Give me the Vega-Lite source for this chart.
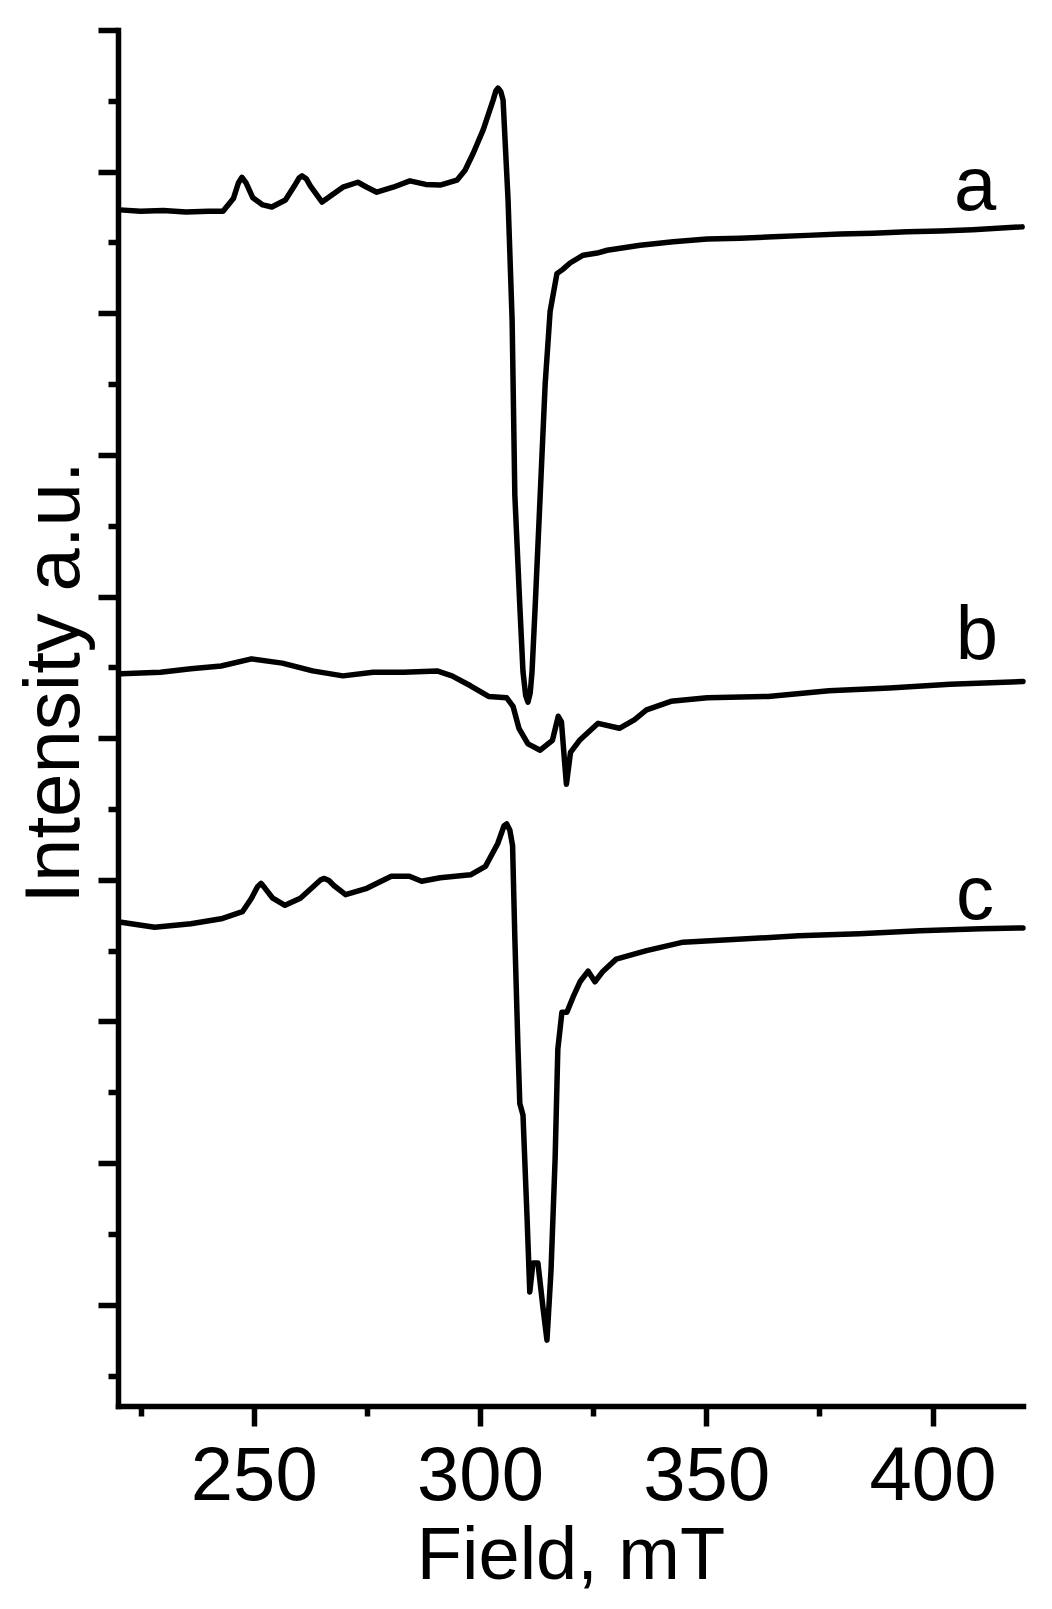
{
  "$schema": "https://vega.github.io/schema/vega-lite/v6.json",
  "width": 905,
  "height": 1376,
  "autosize": {"type": "none"},
  "padding": {"left": 118, "top": 30, "right": 29, "bottom": 203},
  "background": "white",
  "config": {"view": {"stroke": null}, "font": "Liberation Sans"},
  "datasets": {
    "spectra": [
      {"sample": "a", "field_mT": 220.4, "intensity": 16.46},
      {"sample": "a", "field_mT": 225, "intensity": 16.44},
      {"sample": "a", "field_mT": 230, "intensity": 16.45},
      {"sample": "a", "field_mT": 235, "intensity": 16.43},
      {"sample": "a", "field_mT": 240, "intensity": 16.44},
      {"sample": "a", "field_mT": 243.2, "intensity": 16.44},
      {"sample": "a", "field_mT": 245.5, "intensity": 16.62},
      {"sample": "a", "field_mT": 246.6, "intensity": 16.84},
      {"sample": "a", "field_mT": 247.4, "intensity": 16.92},
      {"sample": "a", "field_mT": 248.3, "intensity": 16.84},
      {"sample": "a", "field_mT": 249.8, "intensity": 16.63},
      {"sample": "a", "field_mT": 252, "intensity": 16.53},
      {"sample": "a", "field_mT": 254, "intensity": 16.5},
      {"sample": "a", "field_mT": 257, "intensity": 16.6},
      {"sample": "a", "field_mT": 259, "intensity": 16.8},
      {"sample": "a", "field_mT": 260, "intensity": 16.91},
      {"sample": "a", "field_mT": 260.7, "intensity": 16.94},
      {"sample": "a", "field_mT": 261.6, "intensity": 16.9},
      {"sample": "a", "field_mT": 262.5, "intensity": 16.8},
      {"sample": "a", "field_mT": 265.1, "intensity": 16.57},
      {"sample": "a", "field_mT": 267.5, "intensity": 16.68},
      {"sample": "a", "field_mT": 269.7, "intensity": 16.78},
      {"sample": "a", "field_mT": 273, "intensity": 16.85},
      {"sample": "a", "field_mT": 275, "intensity": 16.78},
      {"sample": "a", "field_mT": 277.2, "intensity": 16.71},
      {"sample": "a", "field_mT": 280.8, "intensity": 16.78},
      {"sample": "a", "field_mT": 284.5, "intensity": 16.87},
      {"sample": "a", "field_mT": 288, "intensity": 16.82},
      {"sample": "a", "field_mT": 291.2, "intensity": 16.81},
      {"sample": "a", "field_mT": 294.9, "intensity": 16.88},
      {"sample": "a", "field_mT": 296.7, "intensity": 17.02},
      {"sample": "a", "field_mT": 298.5, "intensity": 17.26},
      {"sample": "a", "field_mT": 300.7, "intensity": 17.59},
      {"sample": "a", "field_mT": 302.9, "intensity": 18.01},
      {"sample": "a", "field_mT": 303.5, "intensity": 18.14},
      {"sample": "a", "field_mT": 304, "intensity": 18.18},
      {"sample": "a", "field_mT": 304.6, "intensity": 18.13},
      {"sample": "a", "field_mT": 305.1, "intensity": 18.01},
      {"sample": "a", "field_mT": 306.2, "intensity": 16.6},
      {"sample": "a", "field_mT": 307.1, "intensity": 14.9},
      {"sample": "a", "field_mT": 307.7, "intensity": 12.43},
      {"sample": "a", "field_mT": 308.8, "intensity": 10.87},
      {"sample": "a", "field_mT": 309.5, "intensity": 9.94},
      {"sample": "a", "field_mT": 310.1, "intensity": 9.6},
      {"sample": "a", "field_mT": 310.6, "intensity": 9.51},
      {"sample": "a", "field_mT": 311.1, "intensity": 9.64},
      {"sample": "a", "field_mT": 311.5, "intensity": 9.94},
      {"sample": "a", "field_mT": 312.2, "intensity": 10.87},
      {"sample": "a", "field_mT": 313.3, "intensity": 12.43},
      {"sample": "a", "field_mT": 314.4, "intensity": 14.0},
      {"sample": "a", "field_mT": 315.5, "intensity": 15.03},
      {"sample": "a", "field_mT": 317, "intensity": 15.56},
      {"sample": "a", "field_mT": 318.3, "intensity": 15.62},
      {"sample": "a", "field_mT": 319.9, "intensity": 15.71},
      {"sample": "a", "field_mT": 322.8, "intensity": 15.82},
      {"sample": "a", "field_mT": 325.9, "intensity": 15.85},
      {"sample": "a", "field_mT": 328.1, "intensity": 15.89},
      {"sample": "a", "field_mT": 335.4, "intensity": 15.96},
      {"sample": "a", "field_mT": 342.7, "intensity": 16.01},
      {"sample": "a", "field_mT": 350.2, "intensity": 16.05},
      {"sample": "a", "field_mT": 357.5, "intensity": 16.06},
      {"sample": "a", "field_mT": 364.8, "intensity": 16.08},
      {"sample": "a", "field_mT": 372.3, "intensity": 16.1},
      {"sample": "a", "field_mT": 379.6, "intensity": 16.12},
      {"sample": "a", "field_mT": 386.9, "intensity": 16.13},
      {"sample": "a", "field_mT": 394.4, "intensity": 16.15},
      {"sample": "a", "field_mT": 401.7, "intensity": 16.16},
      {"sample": "a", "field_mT": 408.9, "intensity": 16.18},
      {"sample": "a", "field_mT": 419.8, "intensity": 16.22},

      {"sample": "b", "field_mT": 220.7, "intensity": 9.91},
      {"sample": "b", "field_mT": 229.4, "intensity": 9.93},
      {"sample": "b", "field_mT": 236.1, "intensity": 9.98},
      {"sample": "b", "field_mT": 242.8, "intensity": 10.02},
      {"sample": "b", "field_mT": 249.5, "intensity": 10.12},
      {"sample": "b", "field_mT": 256.3, "intensity": 10.06},
      {"sample": "b", "field_mT": 263, "intensity": 9.95},
      {"sample": "b", "field_mT": 269.7, "intensity": 9.88},
      {"sample": "b", "field_mT": 276.4, "intensity": 9.93},
      {"sample": "b", "field_mT": 283.1, "intensity": 9.93},
      {"sample": "b", "field_mT": 290.5, "intensity": 9.95},
      {"sample": "b", "field_mT": 293.8, "intensity": 9.88},
      {"sample": "b", "field_mT": 297.9, "intensity": 9.74},
      {"sample": "b", "field_mT": 301.9, "intensity": 9.59},
      {"sample": "b", "field_mT": 305.9, "intensity": 9.57},
      {"sample": "b", "field_mT": 307.3, "intensity": 9.45},
      {"sample": "b", "field_mT": 308.6, "intensity": 9.14},
      {"sample": "b", "field_mT": 310.6, "intensity": 8.92},
      {"sample": "b", "field_mT": 313.3, "intensity": 8.83},
      {"sample": "b", "field_mT": 316, "intensity": 8.97},
      {"sample": "b", "field_mT": 317.3, "intensity": 9.31},
      {"sample": "b", "field_mT": 318, "intensity": 9.23},
      {"sample": "b", "field_mT": 318.7, "intensity": 8.66},
      {"sample": "b", "field_mT": 319.1, "intensity": 8.35},
      {"sample": "b", "field_mT": 320, "intensity": 8.8},
      {"sample": "b", "field_mT": 322, "intensity": 8.97},
      {"sample": "b", "field_mT": 326.1, "intensity": 9.21},
      {"sample": "b", "field_mT": 330.8, "intensity": 9.14},
      {"sample": "b", "field_mT": 334.1, "intensity": 9.26},
      {"sample": "b", "field_mT": 336.8, "intensity": 9.4},
      {"sample": "b", "field_mT": 342.2, "intensity": 9.52},
      {"sample": "b", "field_mT": 350.2, "intensity": 9.57},
      {"sample": "b", "field_mT": 363.7, "intensity": 9.59},
      {"sample": "b", "field_mT": 377.1, "intensity": 9.67},
      {"sample": "b", "field_mT": 390.5, "intensity": 9.71},
      {"sample": "b", "field_mT": 403.9, "intensity": 9.76},
      {"sample": "b", "field_mT": 420, "intensity": 9.8},

      {"sample": "c", "field_mT": 220.7, "intensity": 6.4},
      {"sample": "c", "field_mT": 228.1, "intensity": 6.33},
      {"sample": "c", "field_mT": 236.1, "intensity": 6.38},
      {"sample": "c", "field_mT": 242.8, "intensity": 6.45},
      {"sample": "c", "field_mT": 247.5, "intensity": 6.55},
      {"sample": "c", "field_mT": 249.5, "intensity": 6.74},
      {"sample": "c", "field_mT": 250.8, "intensity": 6.9},
      {"sample": "c", "field_mT": 251.6, "intensity": 6.95},
      {"sample": "c", "field_mT": 252.5, "intensity": 6.88},
      {"sample": "c", "field_mT": 254.2, "intensity": 6.74},
      {"sample": "c", "field_mT": 256.9, "intensity": 6.64},
      {"sample": "c", "field_mT": 260.3, "intensity": 6.74},
      {"sample": "c", "field_mT": 263.6, "intensity": 6.93},
      {"sample": "c", "field_mT": 264.8, "intensity": 7.0},
      {"sample": "c", "field_mT": 265.6, "intensity": 7.02},
      {"sample": "c", "field_mT": 266.6, "intensity": 6.99},
      {"sample": "c", "field_mT": 267.7, "intensity": 6.92},
      {"sample": "c", "field_mT": 270.3, "intensity": 6.79},
      {"sample": "c", "field_mT": 275, "intensity": 6.88},
      {"sample": "c", "field_mT": 280.4, "intensity": 7.05},
      {"sample": "c", "field_mT": 284.4, "intensity": 7.05},
      {"sample": "c", "field_mT": 287.1, "intensity": 6.98},
      {"sample": "c", "field_mT": 291.2, "intensity": 7.03},
      {"sample": "c", "field_mT": 297.9, "intensity": 7.07},
      {"sample": "c", "field_mT": 301.2, "intensity": 7.19},
      {"sample": "c", "field_mT": 303.9, "intensity": 7.51},
      {"sample": "c", "field_mT": 305.3, "intensity": 7.76},
      {"sample": "c", "field_mT": 305.9, "intensity": 7.79},
      {"sample": "c", "field_mT": 306.6, "intensity": 7.7},
      {"sample": "c", "field_mT": 307.2, "intensity": 7.48},
      {"sample": "c", "field_mT": 307.7, "intensity": 6.18},
      {"sample": "c", "field_mT": 308.4, "intensity": 4.61},
      {"sample": "c", "field_mT": 308.8, "intensity": 3.84},
      {"sample": "c", "field_mT": 309.5, "intensity": 3.68},
      {"sample": "c", "field_mT": 310.4, "intensity": 2.23},
      {"sample": "c", "field_mT": 311, "intensity": 1.18},
      {"sample": "c", "field_mT": 311.7, "intensity": 1.59},
      {"sample": "c", "field_mT": 312.8, "intensity": 1.59},
      {"sample": "c", "field_mT": 313.9, "intensity": 0.97},
      {"sample": "c", "field_mT": 314.8, "intensity": 0.5},
      {"sample": "c", "field_mT": 315.7, "intensity": 1.49},
      {"sample": "c", "field_mT": 316.6, "intensity": 3.06},
      {"sample": "c", "field_mT": 317.2, "intensity": 4.61},
      {"sample": "c", "field_mT": 318.1, "intensity": 5.13},
      {"sample": "c", "field_mT": 319.2, "intensity": 5.13},
      {"sample": "c", "field_mT": 320.6, "intensity": 5.35},
      {"sample": "c", "field_mT": 322.1, "intensity": 5.56},
      {"sample": "c", "field_mT": 323.9, "intensity": 5.71},
      {"sample": "c", "field_mT": 325.4, "intensity": 5.56},
      {"sample": "c", "field_mT": 327.2, "intensity": 5.71},
      {"sample": "c", "field_mT": 330.1, "intensity": 5.88},
      {"sample": "c", "field_mT": 336.8, "intensity": 6.0},
      {"sample": "c", "field_mT": 344.9, "intensity": 6.12},
      {"sample": "c", "field_mT": 356.9, "intensity": 6.16},
      {"sample": "c", "field_mT": 370.4, "intensity": 6.21},
      {"sample": "c", "field_mT": 383.8, "intensity": 6.24},
      {"sample": "c", "field_mT": 397.2, "intensity": 6.28},
      {"sample": "c", "field_mT": 410.7, "intensity": 6.31},
      {"sample": "c", "field_mT": 420, "intensity": 6.32}
    ],
    "labels": [
      {"label": "a", "field_mT": 409.4, "intensity": 16.46},
      {"label": "b", "field_mT": 409.8, "intensity": 10.12},
      {"label": "c", "field_mT": 409.4, "intensity": 6.45}
    ]
  },
  "layer": [
    {
      "data": {"name": "spectra"},
      "mark": {"type": "line", "color": "black", "strokeWidth": 5.5, "strokeJoin": "round", "strokeCap": "round"},
      "encoding": {
        "x": {
          "field": "field_mT",
          "type": "quantitative",
          "scale": {"domain": [220, 420], "nice": false, "zero": false},
          "axis": {
            "title": "Field, mT",
            "values": [225, 250, 275, 300, 325, 350, 375, 400],
            "labelExpr": "datum.value % 50 === 0 ? datum.label : ''",
            "grid": false,
            "domainColor": "black",
            "domainWidth": 5.5,
            "domainCap": "square",
            "tickColor": "black",
            "tickWidth": 5.5,
            "tickSize": {"condition": {"test": "datum.value % 50 === 0", "value": 20}, "value": 10},
            "labelFont": "Liberation Sans",
            "labelFontSize": 76,
            "labelColor": "black",
            "labelPadding": 13,
            "labelFlush": false,
            "labelOverlap": false,
            "titleFont": "Liberation Sans",
            "titleFontSize": 74,
            "titleFontWeight": "normal",
            "titleColor": "black",
            "titleBaseline": "top",
            "titleY": 114
          }
        },
        "y": {
          "field": "intensity",
          "type": "quantitative",
          "scale": {"domain": [-0.43, 19], "nice": false, "zero": false},
          "axis": {
            "title": "Intensity a.u.",
            "values": [0, 1, 2, 3, 4, 5, 6, 7, 8, 9, 10, 11, 12, 13, 14, 15, 16, 17, 18, 19],
            "labels": false,
            "grid": false,
            "domainColor": "black",
            "domainWidth": 5.5,
            "domainCap": "square",
            "tickColor": "black",
            "tickWidth": 5.5,
            "tickSize": {"condition": {"test": "datum.value % 2 === 1", "value": 20}, "value": 10},
            "titleFont": "Liberation Sans",
            "titleFontSize": 78,
            "titleFontWeight": "normal",
            "titleColor": "black",
            "titleAngle": 270,
            "titleBaseline": "alphabetic",
            "titleX": -40,
            "titleY": 652
          }
        },
        "detail": {"field": "sample", "type": "nominal"}
      }
    },
    {
      "data": {"name": "labels"},
      "mark": {"type": "text", "fontSize": 76, "font": "Liberation Sans", "align": "center", "baseline": "alphabetic", "color": "black"},
      "encoding": {
        "x": {"field": "field_mT", "type": "quantitative"},
        "y": {"field": "intensity", "type": "quantitative"},
        "text": {"field": "label", "type": "nominal"}
      }
    }
  ]
}
